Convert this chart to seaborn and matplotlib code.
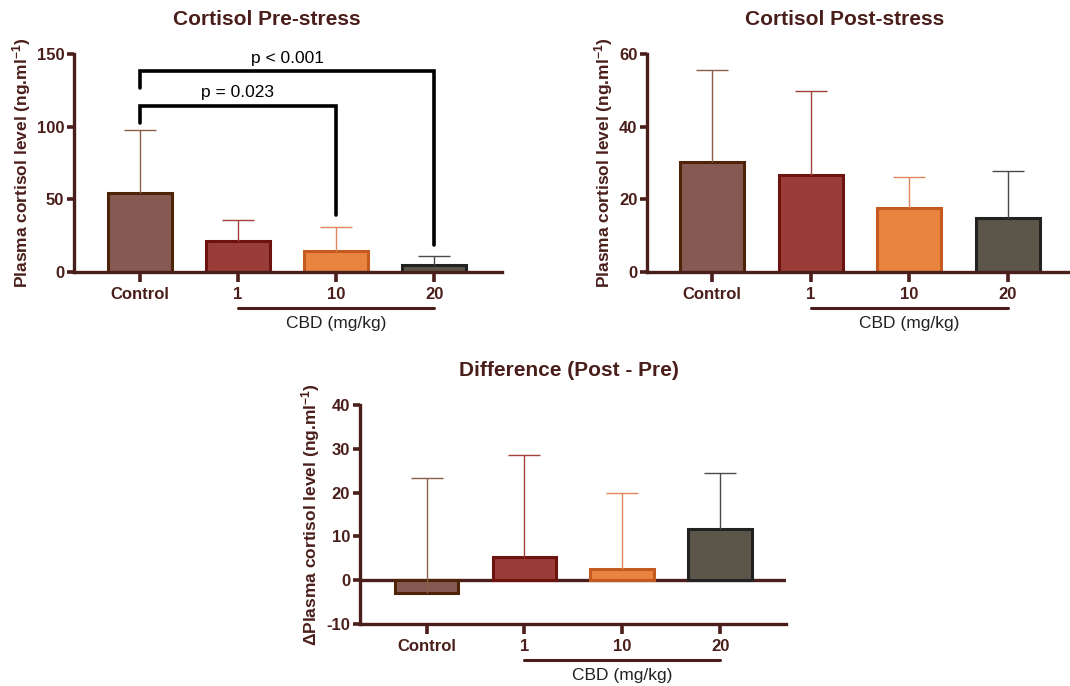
import numpy as np
import matplotlib
matplotlib.use("Agg")
import matplotlib.pyplot as plt
import matplotlib.transforms as mtrans
import seaborn as sns

sns.set_style("ticks")
plt.rcParams['font.family'] = ['Liberation Sans', 'DejaVu Sans']
plt.rcParams['mathtext.fontset'] = 'custom'
plt.rcParams['mathtext.rm'] = 'Liberation Sans:bold'
plt.rcParams['mathtext.it'] = 'Liberation Sans:bold'
plt.rcParams['mathtext.bf'] = 'Liberation Sans:bold'
plt.rcParams['axes.unicode_minus'] = False

groups = ["Control", "1", "10", "20"]
pre_mean = [54.4, 21.3, 14.4, 4.8]
pre_err = [43.3, 14.5, 16.6, 6.2]
post_mean = [30.3, 26.6, 17.5, 14.9]
post_err = [25.3, 23.3, 8.7, 12.9]
diff_mean = [-2.9, 5.2, 2.5, 11.8]
diff_err = [26.2, 23.5, 17.3, 12.6]

# significance brackets on pre-stress panel: (group a, group b, height, leg a, leg b, label)
brackets = [(0, 2, 114, 102.5, 39, "p = 0.023"),
            (0, 3, 138, 126.6, 18.6, "p < 0.001")]

fills = ["#865A52", "#9A3C38", "#E8843F", "#5C554A"]
edges = ["#4E2408", "#6E1410", "#C45A20", "#222222"]
errc = ["#8A5E48", "#A3403A", "#E0885A", "#4A4A4A"]
ink = "#4A1E1A"


def panel(ax, means, errs, title, ylabel, ylim, yticks, title_x, xlim):
    sns.barplot(x=groups, y=means, hue=groups, palette=fills, legend=False,
                width=0.65, saturation=1, ax=ax, zorder=2)
    for p, ec in zip(ax.patches, edges):
        p.set_edgecolor(ec)
        p.set_linewidth(2.2)
    for i in range(len(groups)):
        _, caps, _ = ax.errorbar(i, means[i], yerr=[[0], [errs[i]]], color=errc[i],
                                 capsize=11.5, elinewidth=1.0, capthick=1.0, zorder=3)
        caps[0].set_visible(False)
    ax.set_xlim(*xlim)
    ax.set_ylim(*ylim)
    ax.set_yticks(yticks)
    sns.despine(ax=ax)
    for s in ["left", "bottom"]:
        ax.spines[s].set_color(ink)
        ax.spines[s].set_linewidth(2.4)
    ax.tick_params(axis="x", length=7, width=2.6, color=ink, labelcolor=ink,
                   labelsize=12, pad=4)
    ax.tick_params(axis="y", length=5, width=2.6, color=ink, labelcolor=ink,
                   labelsize=12, pad=2)
    plt.setp(ax.get_xticklabels(), fontweight="bold")
    plt.setp(ax.get_yticklabels(), fontweight="bold")
    ax.set_xlabel("")
    ax.set_ylabel(ylabel, fontsize=12.5, fontweight="bold", color=ink, labelpad=3)
    ax.set_title(title, fontsize=15, fontweight="bold", color=ink, x=title_x, pad=21)
    tr = mtrans.blended_transform_factory(ax.transData, ax.transAxes)
    ax.plot([1, 3], [-0.164, -0.164], color=ink, lw=2.2, transform=tr, clip_on=False)
    ax.text(2, -0.235, "CBD (mg/kg)", transform=tr, ha="center", va="center",
            fontsize=12.5, color="#222222")


fig = plt.figure(figsize=(10.7, 6.86), dpi=100)
axA = fig.add_axes([0.0692, 0.6035, 0.400, 0.3178])
axB = fig.add_axes([0.6047, 0.6035, 0.3953, 0.3178])
axC = fig.add_axes([0.3364, 0.0904, 0.398, 0.3192])

ylab = "Plasma cortisol level (ng.ml$^{-1}$)"
panel(axA, pre_mean, pre_err, "Cortisol Pre-stress", ylab, (0, 150), [0, 50, 100, 150],
      0.45, (-0.67, 3.69))
panel(axB, post_mean, post_err, "Cortisol Post-stress", ylab, (0, 60), [0, 20, 40, 60],
      0.468, (-0.66, 3.63))
panel(axC, diff_mean, diff_err, "Difference (Post - Pre)", "\u0394" + ylab, (-10, 40),
      [-10, 0, 10, 20, 30, 40], 0.49, (-0.68, 3.67))
axC.axhline(0, color=ink, lw=2.4, zorder=1)

for a, b, h, la, lb, lab in brackets:
    axA.plot([a, a, b, b], [la, h, h, lb], color="black", lw=2.6, clip_on=False,
             solid_joinstyle="miter", zorder=4)
    axA.text((a + b) / 2, h + 4, lab, ha="center", va="bottom", fontsize=12.5,
             color="black")

fig.savefig("out.png", dpi=100)
